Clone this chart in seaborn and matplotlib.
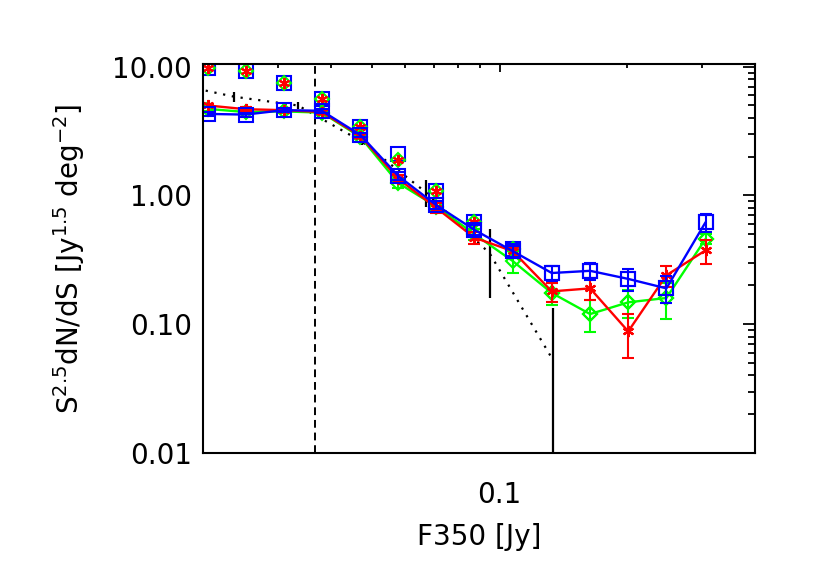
import matplotlib
matplotlib.use('Agg')
import matplotlib.pyplot as plt
import matplotlib.ticker as mticker
import seaborn as sns

# Flux bin centres (Jy)
flux = [0.02055, 0.0252, 0.0310, 0.0381, 0.0470, 0.0577, 0.0710,
        0.0873, 0.1074, 0.1328, 0.1635, 0.2011, 0.2474, 0.3060]

# Corrected counts with errors, one set per colour
red_counts = [5.0, 4.68, 4.6, 4.45, 2.9, 1.35, 0.80, 0.47, 0.37, 0.18, 0.19, 0.088, 0.24, 0.375]
red_err = [0.15, 0.15, 0.15, 0.15, 0.12, 0.1, 0.07, 0.05, 0.04, 0.03, 0.037, 0.033, 0.045, 0.08]
green_counts = [4.7, 4.45, 4.5, 4.4, 2.85, 1.25, 0.82, 0.50, 0.31, 0.175, 0.12, 0.148, 0.16, 0.46]
green_err = [0.15, 0.15, 0.15, 0.15, 0.12, 0.1, 0.06, 0.05, 0.06, 0.035, 0.033, 0.036, 0.05, 0.04]
blue_counts = [4.3, 4.25, 4.6, 4.55, 2.95, 1.42, 0.84, 0.54, 0.37, 0.25, 0.26, 0.225, 0.19, 0.62]
blue_err = [0.15, 0.15, 0.15, 0.15, 0.12, 0.1, 0.06, 0.05, 0.035, 0.035, 0.04, 0.045, 0.045, 0.1]

# Raw counts (symbols only)
red_raw = [9.8, 9.3, 7.5, 5.6, 3.4, 1.9, 1.08, 0.62, 0.385, 0.18, 0.19, 0.088, 0.24, 0.375]
green_raw = [9.8, 9.3, 7.5, 5.6, 3.4, 1.9, 1.08, 0.62, 0.385, 0.175, 0.12, 0.148, 0.16, 0.46]
blue_raw = [9.8, 9.3, 7.5, 5.6, 3.4, 2.1, 1.08, 0.62, 0.385, 0.25, 0.26, 0.225, 0.19, 0.62]

# Model counts (dotted, black error bars)
model_flux = [0.0168, 0.0237, 0.0335, 0.0474, 0.0670, 0.0948, 0.134]
model_counts = [7.45, 5.85, 5.0, 2.62, 1.06, 0.355, 0.052]
model_err = [0.6, 0.55, 0.33, 0.16, 0.25, 0.195, 0.082]

# Completeness limit
flux_limit = 0.0368

sns.set_style('white')
plt.rcParams['font.family'] = ['DejaVu Sans']
plt.rcParams['mathtext.fontset'] = 'dejavusans'
plt.rcParams['axes.linewidth'] = 1.5
plt.rcParams['axes.edgecolor'] = 'black'
plt.rcParams['text.color'] = 'black'
plt.rcParams['axes.labelcolor'] = 'black'
plt.rcParams['xtick.color'] = 'black'
plt.rcParams['ytick.color'] = 'black'

fig = plt.figure(figsize=(8.17, 5.84), dpi=100)
ax = fig.add_axes([0.2485, 0.2243, 0.6755, 0.6661])
ax.set_xscale('log')
ax.set_yscale('log')

# Model with its error bars
ax.errorbar(model_flux, model_counts, yerr=model_err, fmt='none',
            ecolor='black', elinewidth=1.6, capsize=0)
sns.lineplot(x=model_flux, y=model_counts, ax=ax, color='black',
             linestyle=(0, (1, 3)), lw=1.6)

ax.axvline(flux_limit, color='black', linestyle=(0, (4, 2.5)), lw=1.4)

# Raw counts as symbols
ax.plot(flux, blue_raw, linestyle='none', marker='s', ms=10, mfc='none', mec='blue', mew=1.5)
ax.plot(flux, green_raw, linestyle='none', marker='D', ms=7, mfc='none', mec='#00ff00', mew=1.5)
ax.plot(flux, red_raw, linestyle='none', marker=(6, 2, 0), ms=8, mec='red', mew=1.5)

# Corrected counts: lines, symbols and error bars
series = [('#00ff00', green_counts, green_err, 'D', 7),
          ('red', red_counts, red_err, (6, 2, 0), 8),
          ('blue', blue_counts, blue_err, 's', 10)]
for col, vals, errs, mk, size in series:
    ax.errorbar(flux, vals, yerr=errs, fmt='none', ecolor=col,
                elinewidth=1.5, capsize=4, capthick=1.5)
    sns.lineplot(x=flux, y=vals, ax=ax, color=col, lw=1.7,
                 marker=mk, ms=size, mfc='none', mec=col, mew=1.5)

ax.set_xlim(0.02, 0.4)
ax.set_ylim(0.01, 10.5)

# Ticks in IDL style
ax.xaxis.set_major_locator(mticker.FixedLocator([0.1]))
ax.xaxis.set_major_formatter(mticker.FixedFormatter(['0.1']))
ax.xaxis.set_minor_locator(mticker.LogLocator(base=10, subs=range(2, 10), numticks=20))
ax.xaxis.set_minor_formatter(mticker.NullFormatter())
ax.yaxis.set_major_locator(mticker.FixedLocator([0.01, 0.1, 1, 10]))
ax.yaxis.set_major_formatter(mticker.FixedFormatter(['0.01', '0.10', '1.00', '10.00']))
ax.yaxis.set_minor_locator(mticker.LogLocator(base=10, subs=range(2, 10), numticks=20))
ax.yaxis.set_minor_formatter(mticker.NullFormatter())
ax.tick_params(which='both', direction='in', top=True, right=True, width=1.3, labelsize=20)
ax.tick_params(axis='x', which='major', length=6, pad=20)
ax.tick_params(axis='x', which='minor', length=3)
ax.tick_params(axis='y', which='major', length=9, pad=8)
ax.tick_params(axis='y', which='minor', length=5)

ax.set_xlabel('F350 [Jy]', fontsize=20, labelpad=10)
ax.set_ylabel(r'S$^{2.5}$dN/dS [Jy$^{1.5}$ deg$^{-2}$]', fontsize=20, labelpad=18)

plt.savefig('out.png', dpi=100)
